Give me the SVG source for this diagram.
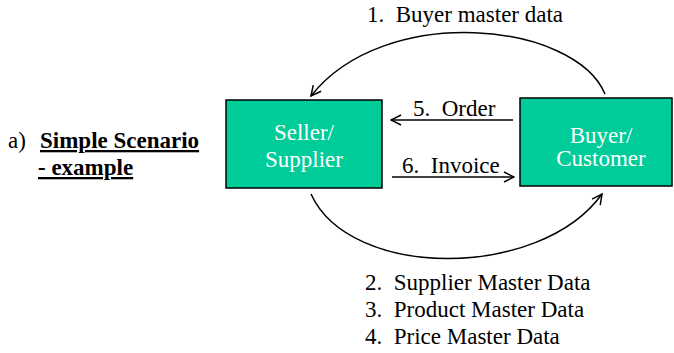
<svg xmlns="http://www.w3.org/2000/svg" width="674" height="353" viewBox="0 0 674 353">
  <style>
    .box { fill: #00CC99; stroke: #000; stroke-width: 1.5; }
    .nodetxt { fill: #fff; text-anchor: middle; }
    .lbl { fill: #000; white-space: pre; }
    .title { fill: #000; font-weight: bold; text-decoration: underline; }
    .edge { fill: none; stroke: #000; stroke-width: 1.5; marker-end: url(#open); }
  </style>
  <defs>
    <marker id="open" viewBox="0 0 12 12" refX="11" refY="6" markerWidth="12" markerHeight="12" markerUnits="userSpaceOnUse" orient="auto">
      <polyline points="1,1 11,6 1,11" fill="none" stroke="#000" stroke-width="1.5"/>
    </marker>
  </defs>

  <rect width="674" height="353" fill="#fff"/>

  <g id="caption">
    <text class="lbl" x="8" y="148" style="font-family: 'Liberation Serif', serif; font-size: 23px">a)</text>
    <text class="title" x="40" y="148" style="font-family: 'Liberation Serif', serif; font-size: 23px">Simple Scenario</text>
    <text class="title" x="38" y="175" style="font-family: 'Liberation Serif', serif; font-size: 23px">- example</text>
  </g>

  <g id="seller">
    <rect class="box" x="226" y="100" width="156" height="88"/>
    <text class="nodetxt" x="304" y="140" style="font-family: 'Liberation Serif', serif; font-size: 23px">Seller/</text>
    <text class="nodetxt" x="304" y="167" style="font-family: 'Liberation Serif', serif; font-size: 23px">Supplier</text>
  </g>

  <g id="buyer">
    <rect class="box" x="520" y="98" width="152" height="88"/>
    <text class="nodetxt" x="601" y="143" style="font-family: 'Liberation Serif', serif; font-size: 23px">Buyer/</text>
    <text class="nodetxt" x="601" y="166" style="font-family: 'Liberation Serif', serif; font-size: 23px">Customer</text>
  </g>

  <g id="connectors">
    <path class="edge" d="M605,94 C575,22 385,2 311,96"/>
    <path class="edge" d="M311,194 C350,280 540,280 602,194"/>
    <line class="edge" x1="513" y1="120" x2="391" y2="120"/>
    <line class="edge" x1="392" y1="177" x2="514" y2="177"/>
  </g>

  <g id="labels">
    <text class="lbl" x="367" y="22" style="font-family: 'Liberation Serif', serif; font-size: 23px">1.  Buyer master data</text>
    <text class="lbl" x="413" y="116" style="font-family: 'Liberation Serif', serif; font-size: 23px">5.  Order</text>
    <text class="lbl" x="402" y="173" style="font-family: 'Liberation Serif', serif; font-size: 23px">6.  Invoice</text>
    <text class="lbl" x="365" y="290" style="font-family: 'Liberation Serif', serif; font-size: 23px">2.  Supplier Master Data</text>
    <text class="lbl" x="365" y="317" style="font-family: 'Liberation Serif', serif; font-size: 23px">3.  Product Master Data</text>
    <text class="lbl" x="365" y="344" style="font-family: 'Liberation Serif', serif; font-size: 23px">4.  Price Master Data</text>
  </g>
</svg>
